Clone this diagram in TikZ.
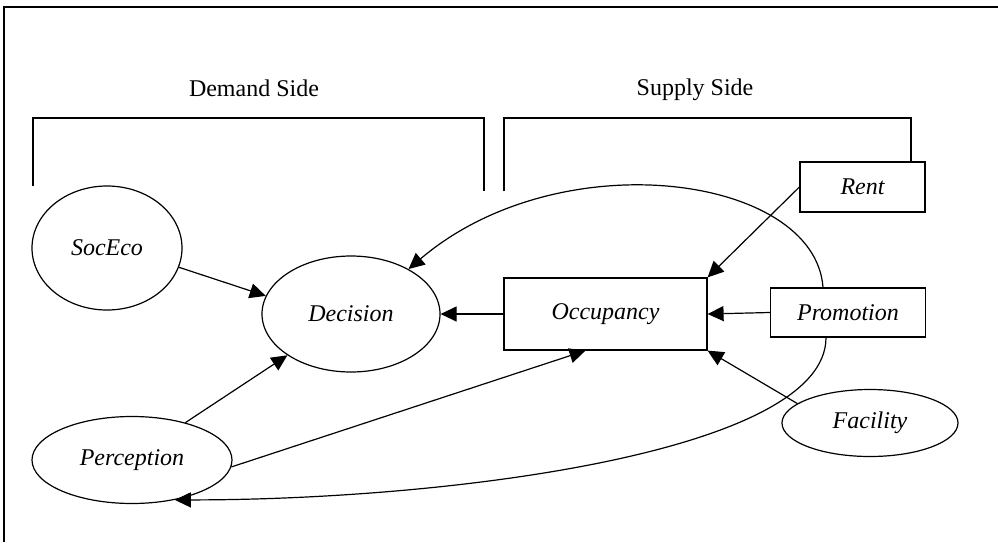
\documentclass[tikz,border=0pt]{standalone}
\usepackage{fontspec}
\setmainfont{Liberation Serif}
\usetikzlibrary{shapes.geometric,arrows.meta}
\begin{document}
\begin{tikzpicture}[x=0.5pt,y=-0.5pt, line width=0.6pt,
  every node/.style={font=\fontsize{12}{14}\selectfont},
  ell/.style={draw, ellipse, inner sep=0pt, font=\fontsize{12}{14}\selectfont\itshape},
  box/.style={draw, rectangle, inner sep=0pt, font=\fontsize{12}{14}\selectfont\itshape},
  arr/.style={-{Triangle[length=8pt,width=7.5pt]}}]
\useasboundingbox (0,0) rectangle (998,542);
% frame
\draw (4,542) -- (4,7) -- (998,7);
% headings
\node (dside) at (254,88) {Demand Side};
\node (sside) at (695,90) {Supply Side};
% brackets
\draw (33,186) -- (33,118) -- (484,118) -- (484,191);
\draw (504,191) -- (504,118) -- (911,118) -- (911,162);
% nodes
\node[ell, minimum width=75pt, minimum height=62pt] (soc) at (107,248) {SocEco};
\node[ell, minimum width=89pt, minimum height=58pt] (dec) at (351,314) {Decision};
\node[ell, minimum width=100pt, minimum height=43.5pt] (per) at (132,460) {Perception};
\node[ell, minimum width=88pt, minimum height=33.5pt] (fac) at (870,423) {Facility};
\node[box, minimum width=101.5pt, minimum height=36pt] (occ) at (605.5,314) {Occupancy};
\node[box, minimum width=77.5pt, minimum height=24.5pt] (prom) at (848,312.5) {Promotion};
\node[box, minimum width=62.5pt, minimum height=25pt] (rent) at (862.5,187) {Rent};
% arrows
\draw[arr] (soc.-15) -- (dec.168);
\draw[arr] (per.35) -- (dec.213);
\draw[arr] (occ.west) -- (dec.east);
\draw[arr] (rent.west) -- (occ.north east);
\draw[arr] (prom.west) -- (occ.east);
\draw[arr] (fac.165) -- (occ.south east);
\draw[arr] (per.-4) -- ([xshift=-10pt]occ.south);
\draw[arr] ([xshift=-12.5pt]prom.north) .. controls (815,175) and (560,140) .. (dec.38);
\draw[arr] ([xshift=-11pt]prom.south) .. controls (826,452) and (450,500) .. (per.-43);
\end{tikzpicture}
\end{document}
